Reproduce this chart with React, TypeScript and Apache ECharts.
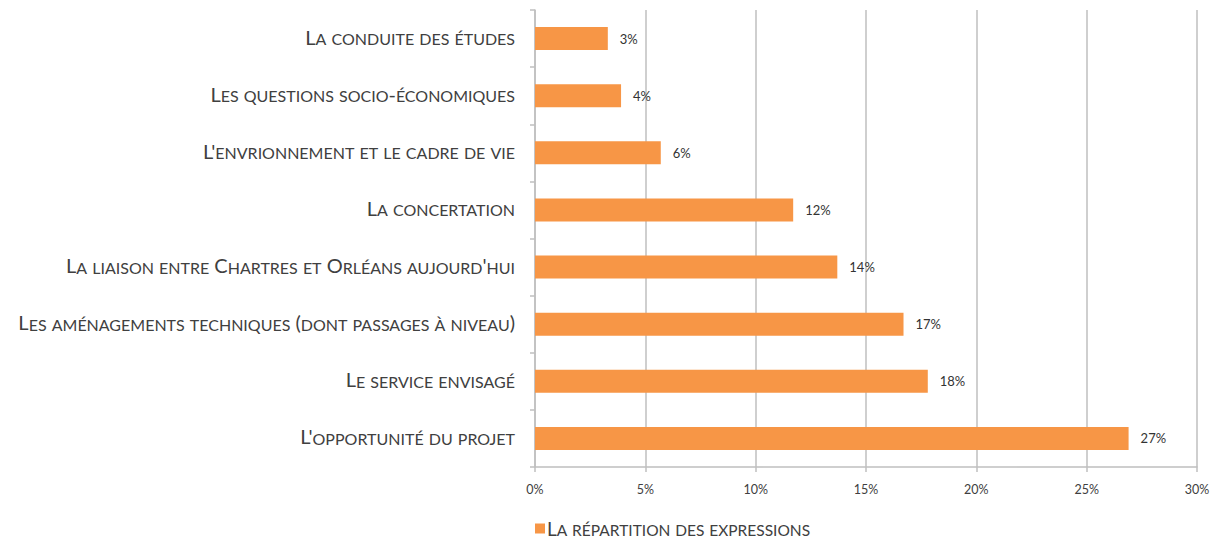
import React, { useEffect, useRef } from "react";
import * as echarts from "echarts";

const categories = [
  "La conduite des études",
  "Les questions socio-économiques",
  "L'envrionnement et le cadre de vie",
  "La concertation",
  "La liaison entre Chartres et Orléans aujourd'hui",
  "Les aménagements techniques (dont passages à niveau)",
  "Le service envisagé",
  "L'opportunité du projet",
];
const values = [3.3, 3.9, 5.7, 11.7, 13.7, 16.7, 17.8, 26.9];
const valueLabels = ["3%", "4%", "6%", "12%", "14%", "17%", "18%", "27%"];
const seriesName = "La répartition des expressions";
const xTicks = [0, 5, 10, 15, 20, 25, 30];

const FONT = "Lato, 'Open Sans', sans-serif";
const GRAY = "#bfbfbf";
const TEXT = "#404040";

// small-caps rendering with rich text
function smallCaps(s: string): string {
  let out = "";
  let cur = "";
  let kind = "";
  const flush = () => {
    if (cur) out += `{${kind}|${cur}}`;
    cur = "";
  };
  for (const ch of s) {
    const isLower = ch !== ch.toUpperCase();
    const k = isLower ? "s" : "c";
    if (k !== kind) {
      flush();
      kind = k;
    }
    cur += isLower ? ch.toUpperCase() : ch;
  }
  flush();
  return out;
}

function rich(big: number, small: number) {
  return {
    c: { fontFamily: FONT, fontSize: big, color: TEXT, verticalAlign: "bottom" },
    s: { fontFamily: FONT, fontSize: small, color: TEXT, verticalAlign: "bottom" },
  };
}

export default function App() {
  const ref = useRef<HTMLDivElement>(null);
  useEffect(() => {
    if (!ref.current) return;
    const chart = echarts.init(ref.current, undefined, { renderer: "svg" });
    chart.setOption({
      animation: false,
      backgroundColor: "#ffffff",
      grid: { left: 535, right: 23, top: 10, bottom: 75, containLabel: false },
      legend: {
        data: [seriesName],
        left: 530,
        top: 514,
        icon: "rect",
        itemWidth: 10,
        itemHeight: 10,
        itemGap: 5,
        formatter: (name: string) => smallCaps(name),
        textStyle: {
          fontFamily: FONT,
          fontSize: 19,
          color: TEXT,
          padding: [0, 0, 0, -3],
          rich: rich(19, 15.5),
        },
      },
      xAxis: {
        type: "value",
        min: xTicks[0],
        max: xTicks[xTicks.length - 1],
        interval: 5,
        axisLine: { show: true, lineStyle: { color: GRAY, width: 1.5 } },
        axisTick: { show: true, length: 5, lineStyle: { color: GRAY, width: 1.5 } },
        splitLine: { show: true, lineStyle: { color: GRAY, width: 1.5 } },
        axisLabel: {
          formatter: "{value}%",
          fontFamily: FONT,
          fontSize: 12.5,
          color: TEXT,
          margin: 16,
        },
      },
      yAxis: {
        type: "category",
        inverse: true,
        data: categories,
        axisLine: { show: true, lineStyle: { color: GRAY, width: 1.5 } },
        axisTick: { show: true, length: 5, lineStyle: { color: GRAY, width: 1.5 } },
        axisLabel: {
          fontFamily: FONT,
          fontSize: 20,
          color: TEXT,
          margin: 20,
          padding: [0, 0, 4, 0],
          formatter: (v: string) => smallCaps(v),
          rich: rich(20, 16),
        },
      },
      series: [
        {
          name: seriesName,
          type: "bar",
          data: values,
          barWidth: 23,
          itemStyle: { color: "#F79646" },
          label: {
            show: true,
            position: "right",
            distance: 12,
            fontFamily: FONT,
            fontSize: 13,
            color: "#333333",
            formatter: (p: any) => valueLabels[p.dataIndex],
          },
        },
      ],
    });
    return () => chart.dispose();
  }, []);
  return (
    <div
      ref={ref}
      style={{ position: "fixed", left: 0, top: 0, width: 1220, height: 542 }}
    />
  );
}
